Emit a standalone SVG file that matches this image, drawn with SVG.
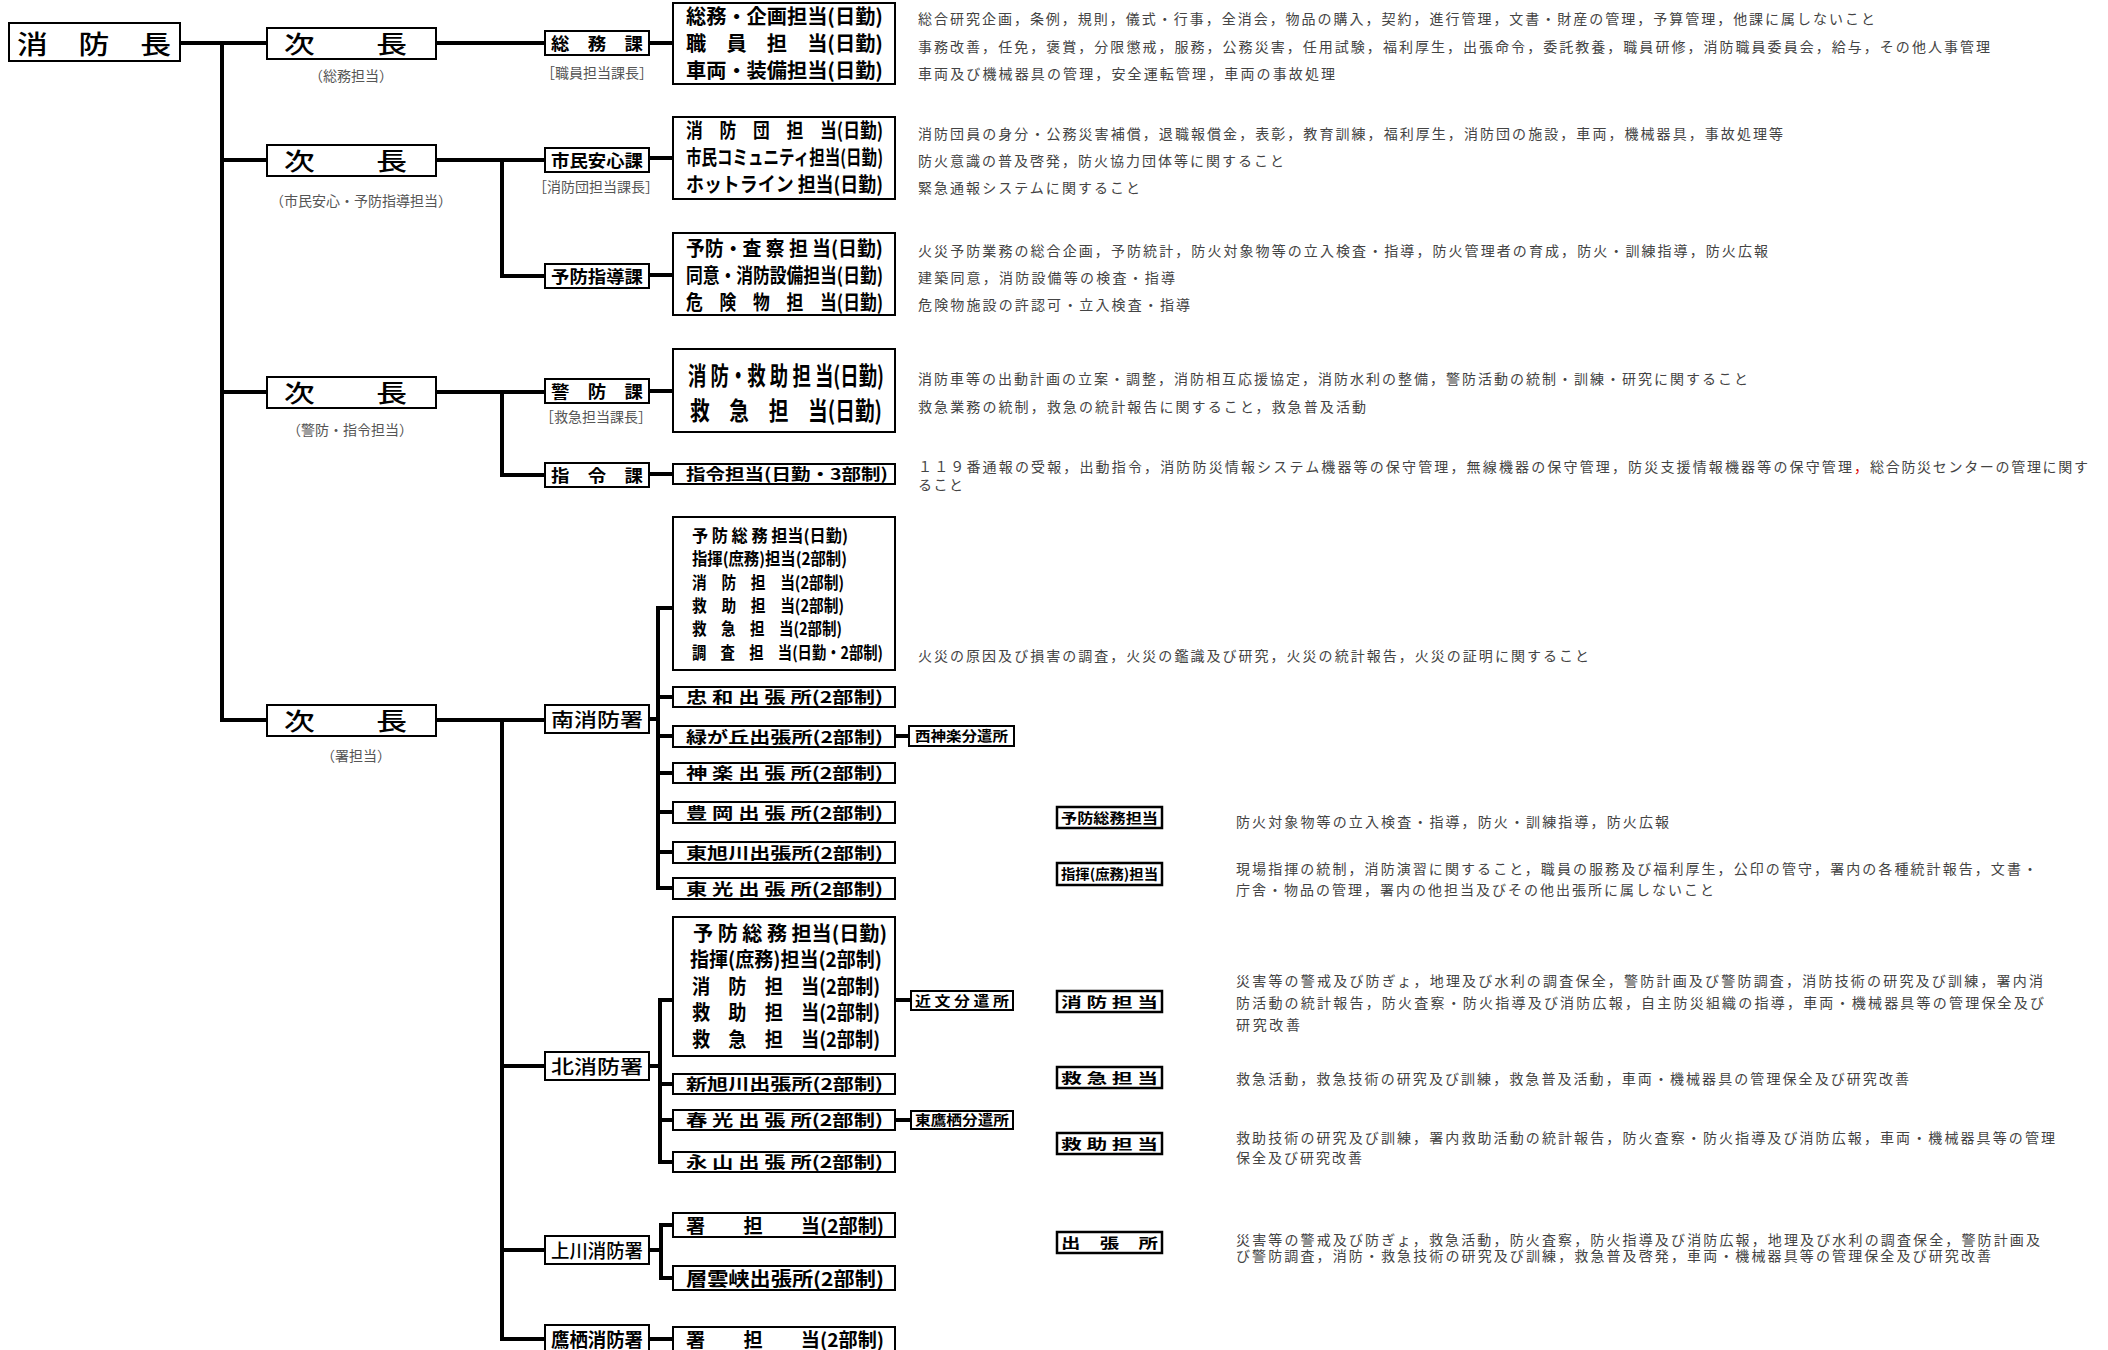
<svg xmlns="http://www.w3.org/2000/svg" width="2108" height="1350" viewBox="0 0 2108 1350">
<style>
.bx{fill:#fff;stroke:#000;stroke-width:2}
.lg{fill:#fff;stroke:#000;stroke-width:2.5}
.ln{stroke:#000;stroke-width:4;fill:none;stroke-linecap:square}
.t{font-family:"Noto Sans CJK JP","Noto Sans CJK SC",sans-serif;font-weight:700;dominant-baseline:central;fill:#000;transform:translateY(-1px)}
.h{font-family:"Noto Sans CJK JP","Noto Sans CJK SC",sans-serif;font-weight:500;dominant-baseline:central;fill:#000;transform:translateY(-1px)}
.s{font-family:"Noto Sans CJK JP","Noto Sans CJK SC",sans-serif;font-size:14px;fill:#555;text-anchor:middle;dominant-baseline:central}
.d{font-family:"Noto Sans CJK JP","Noto Sans CJK SC",sans-serif;font-size:14px;fill:#444;dominant-baseline:central}
</style>
<rect width="2108" height="1350" fill="#fff"/>
<g id="connectors">
<path class="ln" d="M180 43H267M222 43V720M222 160H267M222 392H267M222 720H267"/>
<path class="ln" d="M436 43H545M649 43H673"/>
<path class="ln" d="M436 160H545M502 160V276H545M649 158H673M649 275H673"/>
<path class="ln" d="M436 392H545M502 392V475H545M649 391H673M649 474H673"/>
<path class="ln" d="M436 720H545M502 720V1339H545M502 1066H545M502 1250H545"/>
<path class="ln" d="M649 719H658M658 608V888M658 608H673M658 697H673M658 736H673M658 773H673M658 812H673M658 852H673M658 888H673M895 736H909"/>
<path class="ln" d="M649 1066H660M660 1000V1162M660 1000H673M660 1084H673M660 1120H673M660 1162H673M895 1000H911M895 1120H911"/>
<path class="ln" d="M649 1250H661M661 1225V1278M661 1225H673M661 1278H673M649 1339H673"/>
</g>
<g id="chief"><rect class="bx" x="9" y="23" width="171" height="38"/><text class="h" x="17" y="43" font-size="26" textLength="154" lengthAdjust="spacingAndGlyphs">消　防　長</text></g>
<g id="deputy1"><rect class="bx" x="267" y="28" width="169" height="31"/><text class="h" x="284" y="43.5" font-size="24" textLength="123" lengthAdjust="spacingAndGlyphs">次　　長</text><text class="s" x="351" y="75">（総務担当）</text></g>
<g id="deputy2"><rect class="bx" x="267" y="145" width="169" height="31"/><text class="h" x="284" y="160.5" font-size="24" textLength="123" lengthAdjust="spacingAndGlyphs">次　　長</text><text class="s" x="361" y="200">（市民安心・予防指導担当）</text></g>
<g id="deputy3"><rect class="bx" x="267" y="377" width="169" height="31"/><text class="h" x="284" y="392.5" font-size="24" textLength="123" lengthAdjust="spacingAndGlyphs">次　　長</text><text class="s" x="350" y="429">（警防・指令担当）</text></g>
<g id="deputy4"><rect class="bx" x="267" y="705" width="169" height="31"/><text class="h" x="284" y="720.5" font-size="24" textLength="123" lengthAdjust="spacingAndGlyphs">次　　長</text><text class="s" x="356" y="755">（署担当）</text></g>

<g id="soumu"><rect class="bx" x="545" y="31" width="104" height="24"/><text class="t" x="551" y="43" font-size="17" textLength="92" lengthAdjust="spacingAndGlyphs">総　務　課</text><text class="s" x="597" y="72">［職員担当課長］</text></g>
<g id="shimin"><rect class="bx" x="545" y="148" width="104" height="24"/><text class="t" x="551" y="160" font-size="17" textLength="92" lengthAdjust="spacingAndGlyphs">市民安心課</text><text class="s" x="596" y="186">［消防団担当課長］</text></g>
<g id="yobou"><rect class="bx" x="545" y="264" width="104" height="24"/><text class="t" x="551" y="276" font-size="17" textLength="92" lengthAdjust="spacingAndGlyphs">予防指導課</text></g>
<g id="keibou"><rect class="bx" x="545" y="379" width="104" height="24"/><text class="t" x="551" y="391" font-size="17" textLength="92" lengthAdjust="spacingAndGlyphs">警　防　課</text><text class="s" x="596" y="416">［救急担当課長］</text></g>
<g id="shirei"><rect class="bx" x="545" y="463" width="104" height="24"/><text class="t" x="551" y="475" font-size="17" textLength="92" lengthAdjust="spacingAndGlyphs">指　令　課</text></g>
<g id="minami"><rect class="bx" x="545" y="705" width="104" height="28"/><text class="h" x="551" y="719" font-size="19" textLength="92" lengthAdjust="spacingAndGlyphs">南消防署</text></g>
<g id="kita"><rect class="bx" x="545" y="1052" width="104" height="28"/><text class="h" x="551" y="1066" font-size="19" textLength="92" lengthAdjust="spacingAndGlyphs">北消防署</text></g>
<g id="kamikawa"><rect class="bx" x="545" y="1236" width="104" height="28"/><text class="h" x="551" y="1250" font-size="19" textLength="92" lengthAdjust="spacingAndGlyphs">上川消防署</text></g>
<g id="takasu"><rect class="bx" x="545" y="1325" width="104" height="28"/><text class="t" x="551" y="1339" font-size="19" textLength="92" lengthAdjust="spacingAndGlyphs">鷹栖消防署</text></g>

<g id="box1"><rect class="bx" x="673" y="3" width="222" height="81"/>
<text class="t" x="686" y="16" font-size="20" textLength="197" lengthAdjust="spacingAndGlyphs">総務・企画担当(日勤)</text>
<text class="t" x="686" y="43" font-size="20" textLength="197" lengthAdjust="spacingAndGlyphs">職　員　担　当(日勤)</text>
<text class="t" x="686" y="70" font-size="20" textLength="197" lengthAdjust="spacingAndGlyphs">車両・装備担当(日勤)</text></g>
<g id="box2"><rect class="bx" x="673" y="117" width="222" height="82"/>
<text class="t" x="686" y="130" font-size="20" textLength="197" lengthAdjust="spacingAndGlyphs">消　防　団　担　当(日勤)</text>
<text class="t" x="686" y="157" font-size="20" textLength="197" lengthAdjust="spacingAndGlyphs">市民コミュニティ担当(日勤)</text>
<text class="t" x="686" y="184" font-size="20" textLength="197" lengthAdjust="spacingAndGlyphs">ホットライン 担当(日勤)</text></g>
<g id="box3"><rect class="bx" x="673" y="233" width="222" height="82"/>
<text class="t" x="686" y="248" font-size="20" textLength="197" lengthAdjust="spacingAndGlyphs">予防・査 察 担 当(日勤)</text>
<text class="t" x="686" y="275" font-size="20" textLength="197" lengthAdjust="spacingAndGlyphs">同意・消防設備担当(日勤)</text>
<text class="t" x="686" y="302" font-size="20" textLength="197" lengthAdjust="spacingAndGlyphs">危　険　物　担　当(日勤)</text></g>
<g id="box4"><rect class="bx" x="673" y="349" width="222" height="83"/>
<text class="t" x="688" y="375" font-size="25" textLength="196" lengthAdjust="spacingAndGlyphs">消 防・救 助 担 当(日勤)</text>
<text class="t" x="690" y="410" font-size="25" textLength="192" lengthAdjust="spacingAndGlyphs">救　急　担　当(日勤)</text></g>
<g id="shirei-tantou"><rect class="bx" x="673" y="464" width="222" height="20"/><text class="t" x="686" y="474" font-size="16" textLength="202" lengthAdjust="spacingAndGlyphs">指令担当(日勤・3部制)</text></g>

<g id="minami-box"><rect class="bx" x="673" y="517" width="222" height="153"/>
<text class="t" x="692" y="535" font-size="17" textLength="156" lengthAdjust="spacingAndGlyphs">予 防 総 務 担当(日勤)</text>
<text class="t" x="692" y="558" font-size="17" textLength="155" lengthAdjust="spacingAndGlyphs">指揮(庶務)担当(2部制)</text>
<text class="t" x="692" y="582" font-size="17" textLength="152" lengthAdjust="spacingAndGlyphs">消　防　担　当(2部制)</text>
<text class="t" x="692" y="605" font-size="17" textLength="152" lengthAdjust="spacingAndGlyphs">救　助　担　当(2部制)</text>
<text class="t" x="692" y="628" font-size="17" textLength="150" lengthAdjust="spacingAndGlyphs">救　急　担　当(2部制)</text>
<text class="t" x="692" y="652" font-size="17" textLength="191" lengthAdjust="spacingAndGlyphs">調　査　担　当(日勤・2部制)</text></g>
<g id="chuwa"><rect class="bx" x="673" y="687" width="222" height="20"/><text class="t" x="686" y="697" font-size="16" textLength="197" lengthAdjust="spacingAndGlyphs">忠 和 出 張 所(2部制)</text></g>
<g id="midorigaoka"><rect class="bx" x="673" y="726" width="222" height="21"/><text class="t" x="686" y="736.5" font-size="16" textLength="197" lengthAdjust="spacingAndGlyphs">緑が丘出張所(2部制)</text></g>
<g id="nishikagura"><rect class="bx" x="909" y="726" width="105" height="20"/><text class="t" x="915" y="736" font-size="14" textLength="93" lengthAdjust="spacingAndGlyphs">西神楽分遣所</text></g>
<g id="kagura"><rect class="bx" x="673" y="763" width="222" height="20"/><text class="t" x="686" y="773" font-size="16" textLength="197" lengthAdjust="spacingAndGlyphs">神 楽 出 張 所(2部制)</text></g>
<g id="toyooka"><rect class="bx" x="673" y="802" width="222" height="21"/><text class="t" x="686" y="812.5" font-size="16" textLength="197" lengthAdjust="spacingAndGlyphs">豊 岡 出 張 所(2部制)</text></g>
<g id="higashiasahikawa"><rect class="bx" x="673" y="842" width="222" height="21"/><text class="t" x="686" y="852.5" font-size="16" textLength="197" lengthAdjust="spacingAndGlyphs">東旭川出張所(2部制)</text></g>
<g id="toukou"><rect class="bx" x="673" y="878" width="222" height="21"/><text class="t" x="686" y="888.5" font-size="16" textLength="197" lengthAdjust="spacingAndGlyphs">東 光 出 張 所(2部制)</text></g>

<g id="kita-box"><rect class="bx" x="673" y="917" width="222" height="139"/>
<text class="t" x="693" y="933" font-size="20" textLength="194" lengthAdjust="spacingAndGlyphs">予 防 総 務 担当(日勤)</text>
<text class="t" x="690" y="959" font-size="20" textLength="192" lengthAdjust="spacingAndGlyphs">指揮(庶務)担当(2部制)</text>
<text class="t" x="692" y="986" font-size="20" textLength="188" lengthAdjust="spacingAndGlyphs">消　防　担　当(2部制)</text>
<text class="t" x="692" y="1012" font-size="20" textLength="188" lengthAdjust="spacingAndGlyphs">救　助　担　当(2部制)</text>
<text class="t" x="692" y="1039" font-size="20" textLength="188" lengthAdjust="spacingAndGlyphs">救　急　担　当(2部制)</text></g>
<g id="chikabumi"><rect class="bx" x="911" y="991" width="102" height="19"/><text class="t" x="915" y="1000.5" font-size="14" textLength="94" lengthAdjust="spacingAndGlyphs">近 文 分 遣 所</text></g>
<g id="shinasahikawa"><rect class="bx" x="673" y="1074" width="222" height="20"/><text class="t" x="686" y="1084" font-size="16" textLength="197" lengthAdjust="spacingAndGlyphs">新旭川出張所(2部制)</text></g>
<g id="shunkou"><rect class="bx" x="673" y="1110" width="222" height="20"/><text class="t" x="686" y="1120" font-size="16" textLength="197" lengthAdjust="spacingAndGlyphs">春 光 出 張 所(2部制)</text></g>
<g id="higashitakasu"><rect class="bx" x="911" y="1111" width="102" height="18"/><text class="t" x="915" y="1120" font-size="14" textLength="94" lengthAdjust="spacingAndGlyphs">東鷹栖分遣所</text></g>
<g id="nagayama"><rect class="bx" x="673" y="1152" width="222" height="20"/><text class="t" x="686" y="1162" font-size="16" textLength="197" lengthAdjust="spacingAndGlyphs">永 山 出 張 所(2部制)</text></g>

<g id="kamikawa-sho"><rect class="bx" x="673" y="1213" width="222" height="24"/><text class="t" x="686" y="1225" font-size="19" textLength="198" lengthAdjust="spacingAndGlyphs">署　　担　　当(2部制)</text></g>
<g id="sounkyo"><rect class="bx" x="673" y="1266" width="222" height="24"/><text class="t" x="686" y="1278" font-size="19" textLength="198" lengthAdjust="spacingAndGlyphs">層雲峡出張所(2部制)</text></g>
<g id="takasu-sho"><rect class="bx" x="673" y="1327" width="222" height="25"/><text class="t" x="686" y="1339" font-size="19" textLength="198" lengthAdjust="spacingAndGlyphs">署　　担　　当(2部制)</text></g>

<g id="descriptions">
<text class="d" x="918" y="18" textLength="957" lengthAdjust="spacing">総合研究企画，条例，規則，儀式・行事，全消会，物品の購入，契約，進行管理，文書・財産の管理，予算管理，他課に属しないこと</text>
<text class="d" x="918" y="46" textLength="1072" lengthAdjust="spacing">事務改善，任免，褒賞，分限懲戒，服務，公務災害，任用試験，福利厚生，出張命令，委託教養，職員研修，消防職員委員会，給与，その他人事管理</text>
<text class="d" x="918" y="73" textLength="417" lengthAdjust="spacing">車両及び機械器具の管理，安全運転管理，車両の事故処理</text>
<text class="d" x="918" y="133" textLength="865" lengthAdjust="spacing">消防団員の身分・公務災害補償，退職報償金，表彰，教育訓練，福利厚生，消防団の施設，車両，機械器具，事故処理等</text>
<text class="d" x="918" y="160" textLength="366" lengthAdjust="spacing">防火意識の普及啓発，防火協力団体等に関すること</text>
<text class="d" x="918" y="187" textLength="222" lengthAdjust="spacing">緊急通報システムに関すること</text>
<text class="d" x="918" y="250" textLength="850" lengthAdjust="spacing">火災予防業務の総合企画，予防統計，防火対象物等の立入検査・指導，防火管理者の育成，防火・訓練指導，防火広報</text>
<text class="d" x="918" y="277" textLength="257" lengthAdjust="spacing">建築同意，消防設備等の検査・指導</text>
<text class="d" x="918" y="304" textLength="272" lengthAdjust="spacing">危険物施設の許認可・立入検査・指導</text>
<text class="d" x="918" y="378" textLength="830" lengthAdjust="spacing">消防車等の出動計画の立案・調整，消防相互応援協定，消防水利の整備，警防活動の統制・訓練・研究に関すること</text>
<text class="d" x="918" y="406" textLength="448" lengthAdjust="spacing">救急業務の統制，救急の統計報告に関すること，救急普及活動</text>
<text class="d" x="918" y="466" textLength="934" lengthAdjust="spacing">１１９番通報の受報，出動指令，消防防災情報システム機器等の保守管理，無線機器の保守管理，防災支援情報機器等の保守管理</text>
<text class="d" x="1854" y="466" style="fill:#e00000">，</text>
<text class="d" x="1870" y="466" textLength="218" lengthAdjust="spacing">総合防災センターの管理に関す</text>
<text class="d" x="918" y="484" textLength="45" lengthAdjust="spacing">ること</text>
<text class="d" x="918" y="655" textLength="671" lengthAdjust="spacing">火災の原因及び損害の調査，火災の鑑識及び研究，火災の統計報告，火災の証明に関すること</text>
</g>

<g id="legend-yobousoumu"><rect class="lg" x="1057" y="807" width="105" height="21"/><text class="t" x="1061" y="817.5" font-size="14" textLength="97" lengthAdjust="spacingAndGlyphs">予防総務担当</text>
<text class="d" x="1236" y="821" textLength="433" lengthAdjust="spacing">防火対象物等の立入検査・指導，防火・訓練指導，防火広報</text></g>
<g id="legend-shiki"><rect class="lg" x="1057" y="863" width="105" height="22"/><text class="t" x="1061" y="874" font-size="14" textLength="97" lengthAdjust="spacingAndGlyphs">指揮(庶務)担当</text>
<text class="d" x="1236" y="868" textLength="801" lengthAdjust="spacing">現場指揮の統制，消防演習に関すること，職員の服務及び福利厚生，公印の管守，署内の各種統計報告，文書・</text>
<text class="d" x="1236" y="889" textLength="478" lengthAdjust="spacing">庁舎・物品の管理，署内の他担当及びその他出張所に属しないこと</text></g>
<g id="legend-shoubou"><rect class="lg" x="1057" y="991" width="105" height="21"/><text class="t" x="1061" y="1001.5" font-size="14" textLength="97" lengthAdjust="spacingAndGlyphs">消 防 担 当</text>
<text class="d" x="1236" y="980" textLength="807" lengthAdjust="spacing">災害等の警戒及び防ぎょ，地理及び水利の調査保全，警防計画及び警防調査，消防技術の研究及び訓練，署内消</text>
<text class="d" x="1236" y="1002" textLength="808" lengthAdjust="spacing">防活動の統計報告，防火査察・防火指導及び消防広報，自主防災組織の指導，車両・機械器具等の管理保全及び</text>
<text class="d" x="1236" y="1024" textLength="64" lengthAdjust="spacing">研究改善</text></g>
<g id="legend-kyuukyuu"><rect class="lg" x="1057" y="1067" width="105" height="21"/><text class="t" x="1061" y="1077.5" font-size="14" textLength="97" lengthAdjust="spacingAndGlyphs">救 急 担 当</text>
<text class="d" x="1236" y="1078" textLength="673" lengthAdjust="spacing">救急活動，救急技術の研究及び訓練，救急普及活動，車両・機械器具の管理保全及び研究改善</text></g>
<g id="legend-kyuujo"><rect class="lg" x="1057" y="1133" width="105" height="21"/><text class="t" x="1061" y="1143.5" font-size="14" textLength="97" lengthAdjust="spacingAndGlyphs">救 助 担 当</text>
<text class="d" x="1236" y="1137" textLength="819" lengthAdjust="spacing">救助技術の研究及び訓練，署内救助活動の統計報告，防火査察・防火指導及び消防広報，車両・機械器具等の管理</text>
<text class="d" x="1236" y="1157" textLength="126" lengthAdjust="spacing">保全及び研究改善</text></g>
<g id="legend-shutchoujo"><rect class="lg" x="1057" y="1232" width="105" height="21"/><text class="t" x="1061" y="1242.5" font-size="14" textLength="97" lengthAdjust="spacingAndGlyphs">出　張　所</text>
<text class="d" x="1236" y="1239" textLength="804" lengthAdjust="spacing">災害等の警戒及び防ぎょ，救急活動，防火査察，防火指導及び消防広報，地理及び水利の調査保全，警防計画及</text>
<text class="d" x="1236" y="1255" textLength="755" lengthAdjust="spacing">び警防調査，消防・救急技術の研究及び訓練，救急普及啓発，車両・機械器具等の管理保全及び研究改善</text></g>
</svg>
